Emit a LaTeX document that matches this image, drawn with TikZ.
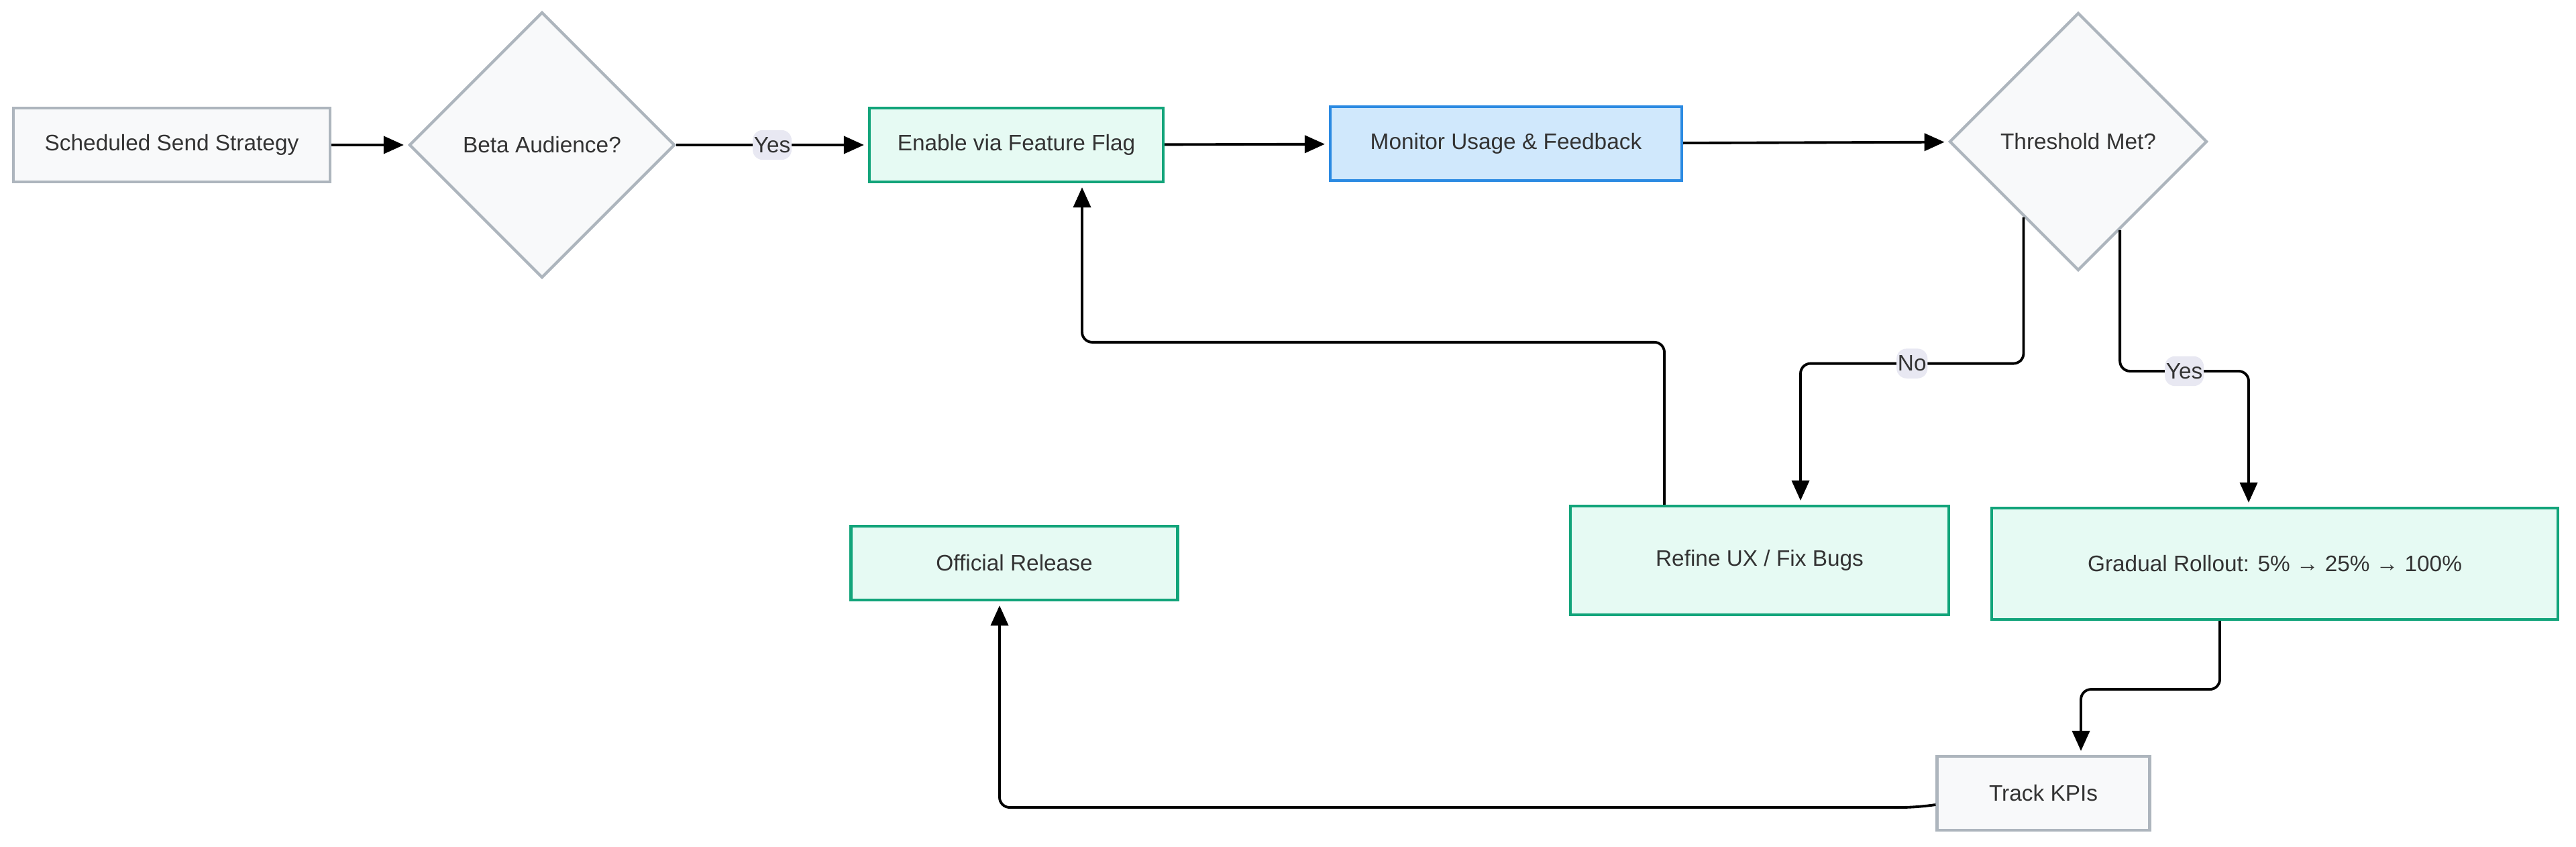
\documentclass[tikz,border=0pt]{standalone}
\usepackage{fontspec}
\setmainfont{Liberation Sans}
\usepackage{tikz}
\usetikzlibrary{arrows.meta,positioning,shapes.geometric,calc}
\definecolor{textgray}{HTML}{333333}
\definecolor{neutralfill}{HTML}{F8F9FA}
\definecolor{neutralline}{HTML}{ADB5BD}
\definecolor{greenfill}{HTML}{E6FAF3}
\definecolor{greenline}{HTML}{12A47A}
\definecolor{bluefill}{HTML}{D0E8FC}
\definecolor{blueline}{HTML}{2B8AE2}
\definecolor{labelfill}{HTML}{E8E8F2}

\begin{document}
\begin{tikzpicture}[
  every node/.style={font=\fontsize{9.5}{11}\selectfont, text=textgray},
  box/.style={rectangle, draw, line width=1.2pt, inner sep=0pt},
  plainbox/.style={box, draw=neutralline, fill=neutralfill},
  greenbox/.style={box, draw=greenline, fill=greenfill},
  bluebox/.style={box, draw=blueline, fill=bluefill},
  decision/.style={diamond, draw=neutralline, fill=neutralfill, line width=1.2pt, inner sep=0pt},
  flow/.style={draw=black, line width=1.1pt, rounded corners=0.15cm, shorten >=0.06cm,
    -{Triangle[length=0.3cm,width=0.26cm]}},
  edgelabel/.style={fill=labelfill, inner xsep=0.5pt, inner ysep=3pt}
]
  \useasboundingbox (0,0) rectangle (38.4,-12.62);

  \node[plainbox, minimum width=4.72cm, minimum height=1.1cm] (sched) at (2.56,-2.16) {Scheduled Send Strategy};
  \node[decision, minimum width=3.96cm, minimum height=3.96cm] (beta) at (8.08,-2.16) {Beta Audience?};
  \node[greenbox, minimum width=4.38cm, minimum height=1.1cm] (enable) at (15.15,-2.16) {Enable via Feature Flag};
  \node[bluebox, minimum width=5.24cm, minimum height=1.1cm] (monitor) at (22.45,-2.14) {Monitor Usage \& Feedback};
  \node[decision, minimum width=3.84cm, minimum height=3.84cm] (thresh) at (30.98,-2.11) {Threshold Met?};
  \node[greenbox, minimum width=5.64cm, minimum height=1.62cm] (refine) at (26.23,-8.35) {Refine UX / Fix Bugs};
  \node[greenbox, minimum width=8.44cm, minimum height=1.66cm] (rollout) at (33.91,-8.40) {Gradual Rollout: 5\% → 25\% → 100\%};
  \node[greenbox, minimum width=4.87cm, minimum height=1.1cm] (release) at (15.12,-8.39) {Official Release};
  \node[plainbox, minimum width=3.17cm, minimum height=1.1cm] (kpis) at (30.46,-11.82) {Track KPIs};

  \draw[flow] (sched) -- (beta);
  \draw[flow] (beta) -- node[edgelabel] {Yes} (enable);
  \draw[flow] (enable) -- (monitor);
  \draw[flow] (monitor) -- (thresh);
  \draw[flow] ($(thresh.south)!0.42!(thresh.west)$) -- ++(0,-2.18) -| node[edgelabel, pos=0.25] {No} ([xshift=0.61cm]refine.north);
  \draw[flow] ($(thresh.south)!0.32!(thresh.east)$) -- ++(0,-2.1) -| node[edgelabel, pos=0.25] {Yes} ([xshift=-0.39cm]rollout.north);
  \draw[flow] ([xshift=-1.42cm]refine.north) -- ++(0,2.42) -| ([xshift=0.98cm]enable.south);
  \draw[flow] ([xshift=-0.82cm]rollout.south) -- ++(0,-1.02) -| ([xshift=0.56cm]kpis.north);
  \draw[flow] ([yshift=-0.17cm]kpis.west) to[out=188, in=0] ++(-0.9,-0.04) -| ([xshift=-0.22cm]release.south);
\end{tikzpicture}
\end{document}
